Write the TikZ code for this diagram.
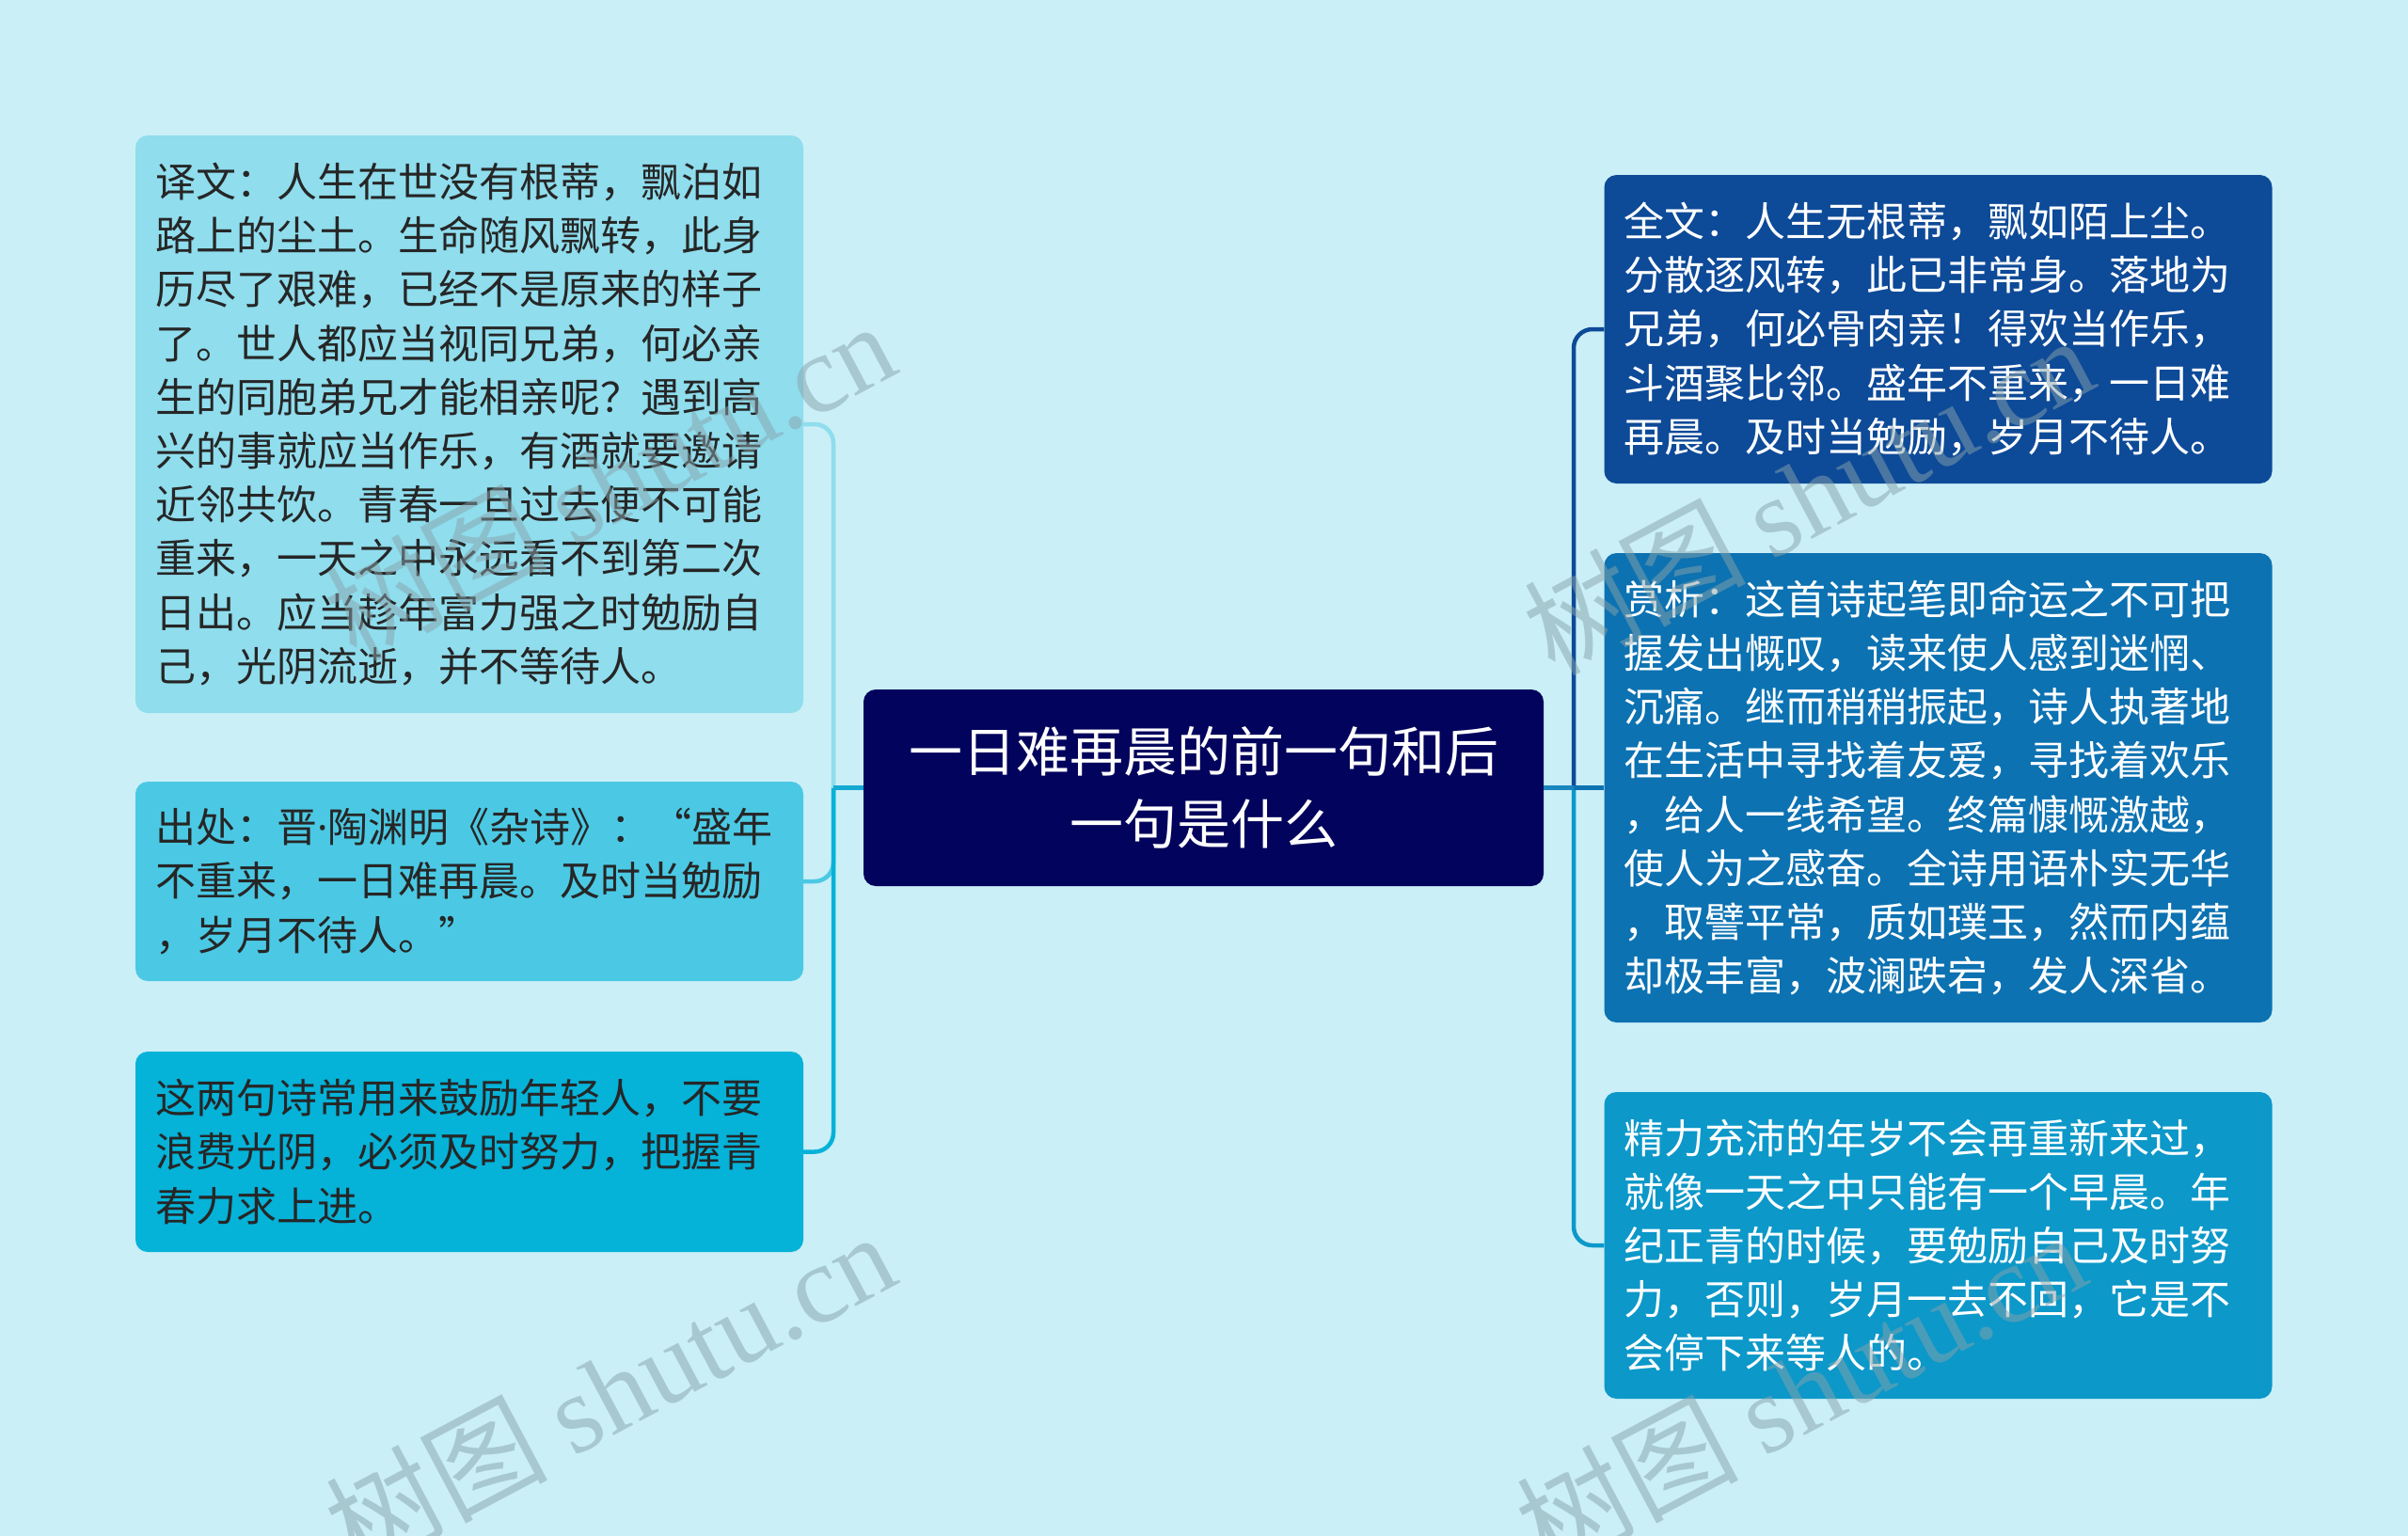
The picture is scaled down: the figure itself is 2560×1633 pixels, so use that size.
\documentclass[tikz,border=0pt]{standalone}
\usepackage{fontspec}
\setmainfont{Noto Sans CJK SC}
\newfontfamily\wmlatin{Liberation Serif}
\newfontfamily\latinsans{Noto Sans}
\definecolor{bgc}{HTML}{CAEFF7}
\definecolor{lc1}{HTML}{8FDDED}
\definecolor{lc2}{HTML}{4BC9E4}
\definecolor{lc3}{HTML}{05B2D8}
\definecolor{cc}{HTML}{02035C}
\definecolor{rc1}{HTML}{0D4A98}
\definecolor{rc2}{HTML}{0C72B2}
\definecolor{rc3}{HTML}{0C98C9}
\definecolor{ltext}{HTML}{262626}
\definecolor{wmc}{HTML}{88A2AA}
\definecolor{lmid}{HTML}{14A9D2}
\definecolor{rmid}{HTML}{1A86BE}
\begin{document}
\begin{tikzpicture}[x=1pt,y=-1pt,
  boxbase/.style={rounded corners=13pt, inner xsep=21pt, inner ysep=0pt, align=left, text width=668pt, minimum width=710pt, font=\fontsize{43}{57.2}\selectfont},
  lbox/.style={boxbase, text=ltext},
  rbox/.style={boxbase, text=white},
  cbox/.style={rounded corners=13pt, fill=cc, text=white, align=center, minimum width=723pt, minimum height=209pt, inner sep=0pt, font=\fontsize{57}{77}\selectfont},
  link/.style={line width=4.5pt, rounded corners=20pt},
  wm/.style={text=wmc, opacity=0.5, rotate=28, font=\fontsize{118}{118}\selectfont}
]
\useasboundingbox (0,0) rectangle (2560,1633);
\fill[bgc] (0,0) rectangle (2560,1633);

% nodes
\node[cbox] (c) at (1279.5,837.5) {一日难再晨的前一句和后\\一句是什么};

\node[lbox, fill=lc1, minimum height=614pt] (l1) at (499,451) {译文：人生在世没有根蒂，飘泊如\\路上的尘土。生命随风飘转，此身\\历尽了艰难，已经不是原来的样子\\了。世人都应当视同兄弟，何必亲\\生的同胞弟兄才能相亲呢？遇到高\\兴的事就应当作乐，有酒就要邀请\\近邻共饮。青春一旦过去便不可能\\重来，一天之中永远看不到第二次\\日出。应当趁年富力强之时勉励自\\己，光阴流逝，并不等待人。};
\node[lbox, fill=lc2, minimum height=212pt] (l2) at (499,937) {出处：晋{\latinsans ·}陶渊明《杂诗》：“盛年\\不重来，一日难再晨。及时当勉励\\，岁月不待人。”};
\node[lbox, fill=lc3, minimum height=213pt] (l3) at (499,1224.5) {这两句诗常用来鼓励年轻人，不要\\浪费光阴，必须及时努力，把握青\\春力求上进。};

\node[rbox, fill=rc1, minimum height=328pt] (r1) at (2060.5,350) {全文：人生无根蒂，飘如陌上尘。\\分散逐风转，此已非常身。落地为\\兄弟，何必骨肉亲！得欢当作乐，\\斗酒聚比邻。盛年不重来，一日难\\再晨。及时当勉励，岁月不待人。};
\node[rbox, fill=rc2, minimum height=499pt] (r2) at (2060.5,837.5) {赏析：这首诗起笔即命运之不可把\\握发出慨叹，读来使人感到迷惘、\\沉痛。继而稍稍振起，诗人执著地\\在生活中寻找着友爱，寻找着欢乐\\，给人一线希望。终篇慷慨激越，\\使人为之感奋。全诗用语朴实无华\\，取譬平常，质如璞玉，然而内蕴\\却极丰富，波澜跌宕，发人深省。};
\node[rbox, fill=rc3, minimum height=326pt] (r3) at (2060.5,1324) {精力充沛的年岁不会再重新来过，\\就像一天之中只能有一个早晨。年\\纪正青的时候，要勉励自己及时努\\力，否则，岁月一去不回，它是不\\会停下来等人的。};

% connectors
\coordinate (lj) at (886,837.5);
\coordinate (rj) at (1673,837.5);
\draw[link, lc2] (lj) |- (l2.east);
\draw[link, lc3] (lj) |- (l3.east);
\draw[link, lc1] (lj) |- (l1.east);
\draw[link, lmid] (c.west) -- (lj);

\draw[link, rc3] (rj) |- (r3.west);
\draw[link, rc1] (rj) |- (r1.west);
\draw[link, rc2] (rj) -- (r2.west);
\draw[link, rmid] (c.east) -- (rj);

% watermarks
\node[wm] (w1) at (648,510) {树图 {\wmlatin shutu.cn}};
\node[wm] (w2) at (1922,525) {树图 {\wmlatin shutu.cn}};
\node[wm] (w3) at (648,1478) {树图 {\wmlatin shutu.cn}};
\node[wm] (w4) at (1914,1478) {树图 {\wmlatin shutu.cn}};
\end{tikzpicture}
\end{document}
